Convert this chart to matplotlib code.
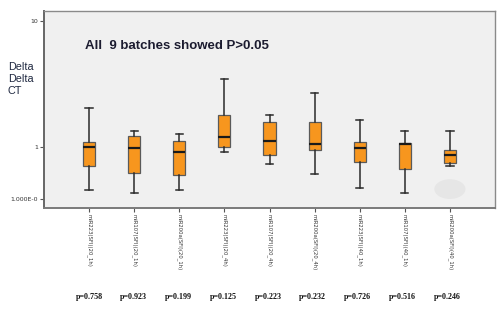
import matplotlib
matplotlib.use("Agg")
import matplotlib.pyplot as plt
from matplotlib.patches import Ellipse

categories = ["miR223(SFI)(20_1h)", "miR107(SFI)(20_1h)", "miR200a(SFI)(20_1h)",
              "miR223(SFI)(20_4h)", "miR107(SFI)(20_4h)", "miR200a(SFI)(20_4h)",
              "miR223(SFI)(40_1h)", "miR107(SFI)(40_1h)", "miR200a(SFI)(40_1h)"]
whisker_low = [0.458, 0.436, 0.458, 0.923, 0.737, 0.614, 0.478, 0.431, 0.711]
q1 = [0.707, 0.629, 0.600, 1.00, 0.864, 0.952, 0.760, 0.669, 0.750]
median = [1.00, 0.993, 0.923, 1.21, 1.13, 1.06, 0.993, 1.06, 0.864]
q3 = [1.10, 1.23, 1.13, 1.81, 1.60, 1.59, 1.10, 1.09, 0.952]
whisker_high = [2.04, 1.35, 1.27, 3.46, 1.80, 2.71, 1.65, 1.35, 1.35]
p_values = ["p=0.758", "p=0.923", "p=0.199", "p=0.125", "p=0.223",
            "p=0.232", "p=0.726", "p=0.516", "p=0.246"]
ytick_vals = [0.3866, 1, 10]
ytick_labels = ["1.000E-0", "1", "10"]

fig = plt.figure(figsize=(5, 3.1), dpi=100)
ax = fig.add_axes([0.088, 0.329, 0.902, 0.6355])
ax.set_facecolor("#f0f0f0")

stats = []
for i in range(len(categories)):
    stats.append(dict(whislo=whisker_low[i], q1=q1[i], med=median[i],
                      q3=q3[i], whishi=whisker_high[i], fliers=[]))
positions = list(range(1, len(categories) + 1))
ax.bxp(stats, positions=positions, widths=0.27, patch_artist=True,
       showfliers=False,
       boxprops=dict(facecolor="#f7961e", edgecolor="#5a5a5a", linewidth=0.9),
       medianprops=dict(color="#1a1a1a", linewidth=1.6),
       whiskerprops=dict(color="#2a2a2a", linewidth=1.1),
       capprops=dict(color="#2a2a2a", linewidth=1.1),
       capwidths=0.16)

ax.set_yscale("log")
ax.set_ylim(0.330, 12.07)
ax.set_xlim(0, 10)
ax.set_yticks(ytick_vals)
ax.set_yticklabels(ytick_labels, fontsize=4.5, color="#333333")
ax.yaxis.set_minor_locator(matplotlib.ticker.NullLocator())
ax.set_xticks(positions)
ax.set_xticklabels(categories, rotation=-90, fontsize=3.8, color="#333333",
                   va="top", ha="center")
ax.tick_params(axis="both", length=3, width=0.8, color="#555555", pad=1.5)

for s in ax.spines.values():
    s.set_color("#8a8a8a")
    s.set_linewidth(1.0)
ax.spines["left"].set_linewidth(1.4)
ax.spines["bottom"].set_linewidth(1.4)
ax.spines["left"].set_color("#666666")
ax.spines["bottom"].set_color("#7a7a7a")

# faint ellipse artifact
ax.add_patch(Ellipse((0.900, 0.096), 0.069, 0.10, transform=ax.transAxes,
                     facecolor="#e6e6e6", edgecolor="none", zorder=0.5))

ax.text(0.09, 0.82, "All  9 batches showed P>0.05", transform=ax.transAxes,
        fontsize=9.5, fontweight="bold", color="#1c1c30",
        family="Liberation Sans", va="center", ha="left")

fig.text(0.016, 0.745, "Delta\nDelta\nCT", fontsize=7.8, color="#1f2840",
         family="Liberation Sans", va="center", ha="left", linespacing=1.2)

for i, p in enumerate(p_values):
    xd = ax.transData.transform((positions[i], 1))[0]
    xf = fig.transFigure.inverted().transform((xd, 0))[0]
    fig.text(xf - 0.006 * (i / 8), 0.042, p, fontsize=5.8, fontweight="bold",
             family="Liberation Serif", ha="center", va="center", color="#111111")

fig.savefig("out.png", dpi=100)
